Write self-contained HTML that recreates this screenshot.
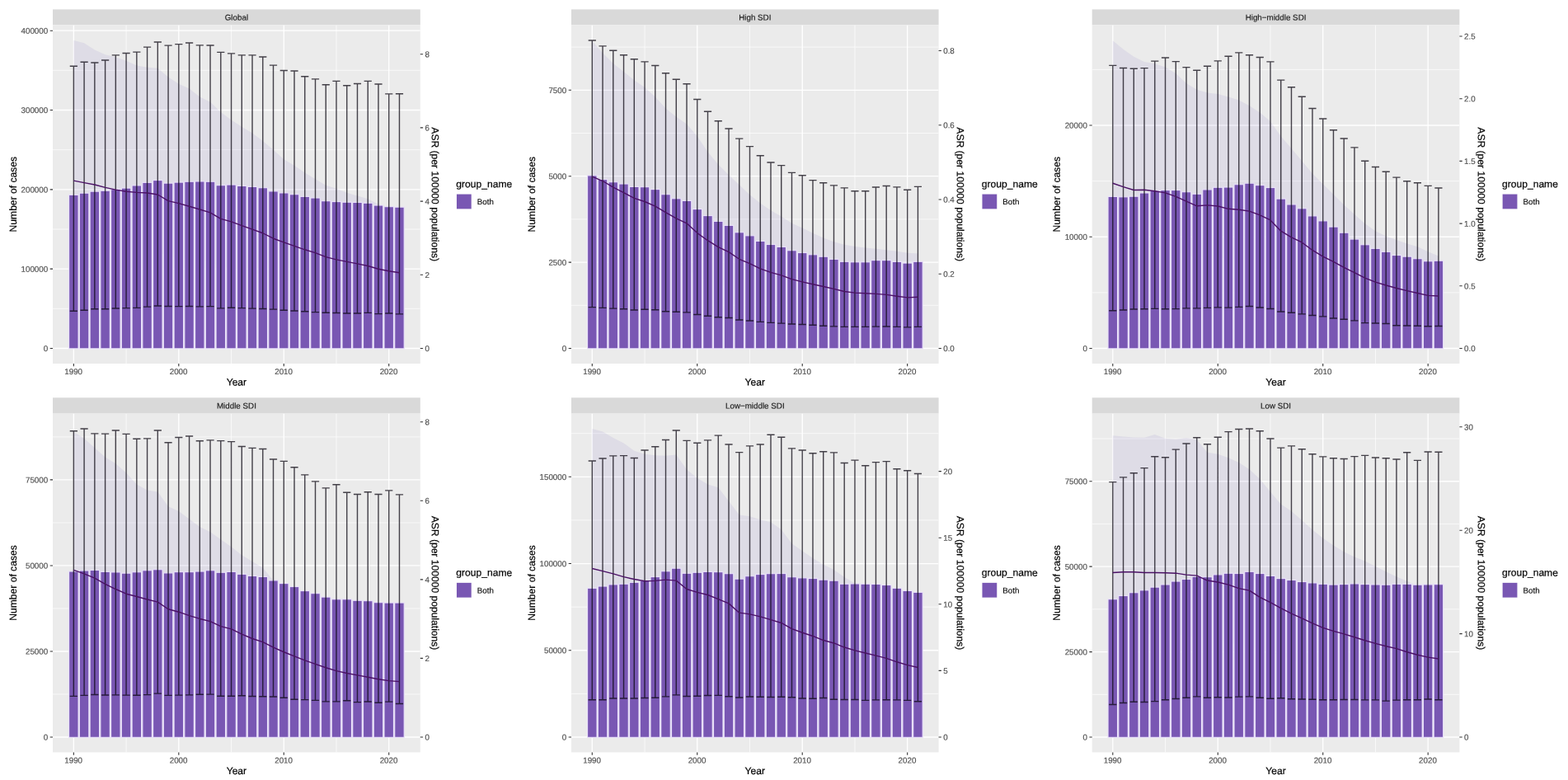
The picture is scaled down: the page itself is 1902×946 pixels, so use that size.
<!DOCTYPE html>
<html lang="en"><head><meta charset="utf-8"><title>Number of cases and ASR by SDI region, 1990-2021</title>
<style>html,body{margin:0;padding:0;background:#fff;}body{width:1902px;height:946px;overflow:hidden;}svg{display:block;font-family:"Liberation Sans",Arial,sans-serif;filter:blur(0.45px);text-rendering:geometricPrecision;}.tk{font-size:9.8px;fill:#4d4d4d;stroke:#4d4d4d;stroke-width:0.15px;}.st{font-size:9.8px;fill:#1a1a1a;stroke:#1a1a1a;stroke-width:0.15px;}.at{font-size:12.1px;fill:#000;stroke:#000;stroke-width:0.2px;}.lg{font-size:9.8px;fill:#000;stroke:#000;stroke-width:0.1px;}</style></head><body>
<svg role="img" aria-label="Number of cases and ASR per 100000 populations by SDI region, 1990 to 2021" width="1902" height="946" viewBox="0 0 1902 946">
<rect x="0" y="0" width="1902" height="946" fill="#ffffff"/>
<g id="panel0">
<rect x="64" y="11.4" width="445.8" height="19" fill="#d9d9d9"/>
<text class="st" transform="translate(286.9 24.5) rotate(0.03)" text-anchor="middle">Global</text>
<rect x="64" y="30.4" width="445.8" height="410.6" fill="#ebebeb"/>
<clipPath id="cp0"><rect x="64" y="30.4" width="445.8" height="410.6"/></clipPath>
<g clip-path="url(#cp0)">
<path d="M64 374.34H509.8M64 278H509.8M64 181.68H509.8M64 85.34H509.8M153.08 30.4V441M280.54 30.4V441M408 30.4V441" stroke="#ffffff" stroke-opacity="0.85" stroke-width="0.8" fill="none"/>
<path d="M64 422.5H509.8M64 326.17H509.8M64 229.84H509.8M64 133.51H509.8M64 37.18H509.8M89.35 30.4V441M216.81 30.4V441M344.27 30.4V441M471.73 30.4V441" stroke="#ffffff" stroke-width="1.3" fill="none"/>
<polygon points="89.35,49.03 102.1,52.2 114.84,60.45 127.59,66.15 140.33,69.33 153.08,73.77 165.83,79.47 178.57,81.76 191.32,82.64 204.06,93.43 216.81,101.67 229.56,107.38 242.3,117.53 255.05,123.87 267.79,135.92 280.54,145.44 293.29,153.81 306.03,161.42 318.78,170.93 331.52,181.71 344.27,193.13 357.02,200.74 369.76,209.62 382.51,217.23 395.25,224.84 408,228.65 420.75,233.72 433.49,237.53 446.24,241.34 458.98,247.68 471.73,251.48 484.48,255.29 484.48,364.63 471.73,363.59 458.98,361.62 446.24,358.96 433.49,357 420.75,355.03 408,353.63 395.25,350.74 382.51,346.82 369.76,344.72 357.02,342.27 344.27,339.26 331.52,337.6 318.78,333.07 306.03,330.55 293.29,327.53 280.54,324.49 267.79,323.72 255.05,318.11 242.3,315.44 229.56,314.5 216.81,311.91 204.06,311.21 191.32,305.03 178.57,302.48 165.83,302.58 153.08,303.49 140.33,302.55 127.59,299.93 114.84,297.54 102.1,297.93 89.35,295.69" fill="#7058bc" fill-opacity="0.1"/>
<g fill="#7957b3" stroke="#e9e1fa" stroke-width="1.15">
<rect x="83.6" y="236.33" width="11.5" height="186.53"/>
<rect x="96.35" y="234.17" width="11.5" height="188.69"/>
<rect x="109.09" y="232.14" width="11.5" height="190.72"/>
<rect x="121.84" y="231.25" width="11.5" height="191.61"/>
<rect x="134.58" y="229.59" width="11.5" height="193.26"/>
<rect x="147.33" y="228.08" width="11.5" height="194.78"/>
<rect x="160.08" y="224.91" width="11.5" height="197.95"/>
<rect x="172.82" y="221.36" width="11.5" height="201.5"/>
<rect x="185.57" y="218.56" width="11.5" height="204.29"/>
<rect x="198.31" y="222.12" width="11.5" height="200.74"/>
<rect x="211.06" y="221.09" width="11.5" height="201.76"/>
<rect x="223.81" y="220.22" width="11.5" height="202.64"/>
<rect x="236.55" y="219.96" width="11.5" height="202.9"/>
<rect x="249.3" y="220.22" width="11.5" height="202.64"/>
<rect x="262.04" y="224.66" width="11.5" height="198.2"/>
<rect x="274.79" y="224.02" width="11.5" height="198.84"/>
<rect x="287.54" y="225.42" width="11.5" height="197.44"/>
<rect x="300.28" y="226.43" width="11.5" height="196.43"/>
<rect x="313.03" y="227.7" width="11.5" height="195.16"/>
<rect x="325.77" y="231.89" width="11.5" height="190.97"/>
<rect x="338.52" y="233.92" width="11.5" height="188.94"/>
<rect x="351.27" y="235.69" width="11.5" height="187.17"/>
<rect x="364.01" y="238.36" width="11.5" height="184.5"/>
<rect x="376.76" y="240" width="11.5" height="182.86"/>
<rect x="389.5" y="243.68" width="11.5" height="179.18"/>
<rect x="402.25" y="244.56" width="11.5" height="178.29"/>
<rect x="415" y="245.21" width="11.5" height="177.65"/>
<rect x="427.74" y="245.46" width="11.5" height="177.4"/>
<rect x="440.49" y="246.22" width="11.5" height="176.64"/>
<rect x="453.23" y="249.01" width="11.5" height="173.84"/>
<rect x="465.98" y="250.66" width="11.5" height="172.2"/>
<rect x="478.73" y="251.17" width="11.5" height="171.69"/>
</g>
<path d="M84.75 80.23H93.95M84.75 377.19H93.95M89.35 80.23V377.19M97.5 75.29H106.7M97.5 376.3H106.7M102.1 75.29V376.3M110.24 75.92H119.44M110.24 374.78H119.44M114.84 75.92V374.78M122.99 73H132.19M122.99 374.78H132.19M127.59 73V374.78M135.73 66.91H144.93M135.73 374.02H144.93M140.33 66.91V374.02M148.48 64.5H157.68M148.48 373.64H157.68M153.08 64.5V373.64M161.23 63.11H170.43M161.23 373.38H170.43M165.83 63.11V373.38M173.97 57.15H183.17M173.97 372.12H183.17M178.57 57.15V372.12M186.72 51.06H195.92M186.72 370.97H195.92M191.32 51.06V370.97M199.46 55.12H208.66M199.46 371.48H208.66M204.06 55.12V371.48M212.21 53.6H221.41M212.21 371.61H221.41M216.81 53.6V371.61M224.96 52.07H234.16M224.96 371.48H234.16M229.56 52.07V371.48M237.7 54.86H246.9M237.7 371.86H246.9M242.3 54.86V371.86M250.45 54.99H259.65M250.45 371.61H259.65M255.05 54.99V371.61M263.19 63.36H272.39M263.19 373.89H272.39M267.79 63.36V373.89M275.94 64.89H285.14M275.94 373.26H285.14M280.54 64.89V373.26M288.69 66.91H297.89M288.69 373.64H297.89M293.29 66.91V373.64M301.43 66.91H310.63M301.43 374.15H310.63M306.03 66.91V374.15M314.18 69.07H323.38M314.18 374.53H323.38M318.78 69.07V374.53M326.92 79.09H336.12M326.92 375.16H336.12M331.52 79.09V375.16M339.67 85.56H348.87M339.67 376.3H348.87M344.27 85.56V376.3M352.42 86.07H361.62M352.42 377.06H361.62M357.02 86.07V377.06M365.16 92.79H374.36M365.16 377.82H374.36M369.76 92.79V377.82M377.91 95.84H387.11M377.91 378.59H387.11M382.51 95.84V378.59M390.65 102.81H399.85M390.65 379.22H399.85M395.25 102.81V379.22M403.4 98.37H412.6M403.4 379.47H412.6M408 98.37V379.47M416.15 103.7H425.35M416.15 379.98H425.35M420.75 103.7V379.98M428.89 101.55H438.09M428.89 379.98H438.09M433.49 101.55V379.98M441.64 98.37H450.84M441.64 379.35H450.84M446.24 98.37V379.35M454.38 102.05H463.58M454.38 380.62H463.58M458.98 102.05V380.62M467.13 113.85H476.33M467.13 379.98H476.33M471.73 113.85V379.98M479.88 113.72H489.08M479.88 380.87H489.08M484.48 113.72V380.87" stroke="#0b0712" stroke-opacity="0.75" stroke-width="1.42" fill="none"/>
<polyline points="89.35,219.14 102.1,221.67 114.84,223.96 127.59,227.38 140.33,230.17 153.08,232.2 165.83,233.34 178.57,233.98 191.32,236.01 204.06,243.62 216.81,246.66 229.56,250.22 242.3,254.02 255.05,257.83 267.79,265.44 280.54,268.92 293.29,273.62 306.03,278.06 318.78,282.75 331.52,289.22 344.27,293.91 357.02,298.35 369.76,302.79 382.51,306.6 395.25,311.67 408,314.84 420.75,317.38 433.49,319.92 446.24,322.46 458.98,326.26 471.73,328.8 484.48,330.7" stroke="#4a1065" stroke-width="1.4" fill="none" stroke-linejoin="round"/>
</g>
<text class="tk" transform="translate(58.2 426.1) rotate(0.03)" text-anchor="end">0</text>
<text class="tk" transform="translate(58.2 329.77) rotate(0.03)" text-anchor="end">100000</text>
<text class="tk" transform="translate(58.2 233.44) rotate(0.03)" text-anchor="end">200000</text>
<text class="tk" transform="translate(58.2 137.11) rotate(0.03)" text-anchor="end">300000</text>
<text class="tk" transform="translate(58.2 40.78) rotate(0.03)" text-anchor="end">400000</text>
<text class="tk" transform="translate(515.4 426.1) rotate(0.03)">0</text>
<text class="tk" transform="translate(515.4 336.9) rotate(0.03)">2</text>
<text class="tk" transform="translate(515.4 247.7) rotate(0.03)">4</text>
<text class="tk" transform="translate(515.4 158.5) rotate(0.03)">6</text>
<text class="tk" transform="translate(515.4 69.3) rotate(0.03)">8</text>
<text class="tk" transform="translate(89.15 454.1) rotate(0.03)" text-anchor="middle">1990</text>
<text class="tk" transform="translate(216.61 454.1) rotate(0.03)" text-anchor="middle">2000</text>
<text class="tk" transform="translate(344.07 454.1) rotate(0.03)" text-anchor="middle">2010</text>
<text class="tk" transform="translate(471.53 454.1) rotate(0.03)" text-anchor="middle">2020</text>
<path d="M60.7 422.5H64M60.7 326.17H64M60.7 229.84H64M60.7 133.51H64M60.7 37.18H64M509.8 422.5H513.1M509.8 333.3H513.1M509.8 244.1H513.1M509.8 154.9H513.1M509.8 65.7H513.1M89.35 441V444.3M216.81 441V444.3M344.27 441V444.3M471.73 441V444.3" stroke="#333333" stroke-width="1.1" fill="none"/>
<text class="at" transform="translate(286.9 467.6) rotate(0.03)" text-anchor="middle">Year</text>
<text class="at" transform="translate(20 235.7) rotate(-89.97)" text-anchor="middle">Number of cases</text>
<text class="at" transform="translate(523.8 235.7) rotate(90.03)" text-anchor="middle">ASR (per 100000 populations)</text>
<text class="at" transform="translate(553.3 227.3) rotate(0.03)">group_name</text>
<rect x="553.5" y="235.1" width="18.7" height="18.7" fill="#f4f2f8"/>
<rect x="554" y="235.6" width="17.7" height="17.7" fill="#7957b3"/>
<text class="lg" transform="translate(578.8 248.1) rotate(0.03)">Both</text>
</g>
<g id="panel1">
<rect x="693" y="11.4" width="445.6" height="19" fill="#d9d9d9"/>
<text class="st" transform="translate(915.8 24.5) rotate(0.03)" text-anchor="middle">High SDI</text>
<rect x="693" y="30.4" width="445.6" height="410.6" fill="#ebebeb"/>
<clipPath id="cp1"><rect x="693" y="30.4" width="445.6" height="410.6"/></clipPath>
<g clip-path="url(#cp1)">
<path d="M693 370.3H1138.6M693 265.9H1138.6M693 161.5H1138.6M693 57.1H1138.6M782.03 30.4V441M909.49 30.4V441M1036.95 30.4V441" stroke="#ffffff" stroke-opacity="0.85" stroke-width="0.8" fill="none"/>
<path d="M693 422.5H1138.6M693 318.1H1138.6M693 213.7H1138.6M693 109.3H1138.6M718.3 30.4V441M845.76 30.4V441M973.22 30.4V441M1100.68 30.4V441" stroke="#ffffff" stroke-width="1.3" fill="none"/>
<polygon points="718.3,49.79 731.05,64.25 743.79,76.94 756.54,87.08 769.28,97.23 782.03,106.11 794.78,117.53 807.52,131.48 820.27,141.63 833.01,150.51 845.76,165.22 858.51,184.25 871.25,199.47 884,212.16 896.74,224.21 909.49,236.26 922.24,246.41 934.98,255.29 947.73,262.54 960.47,270.78 973.22,276.49 985.97,282.83 998.71,288.54 1011.46,293.24 1024.2,296.79 1036.95,299.07 1049.7,300.59 1062.44,301.86 1075.19,303.13 1087.93,304.65 1100.68,306.68 1113.43,307.57 1113.43,383.91 1100.68,385.23 1087.93,383.75 1075.19,381.85 1062.44,380.96 1049.7,380.62 1036.95,380.37 1024.2,379 1011.46,376.01 998.71,374.08 985.97,372.6 973.22,371.22 960.47,369.19 947.73,365.91 934.98,364.2 922.24,361.76 909.49,357.13 896.74,354.83 884,347.75 871.25,344.63 858.51,340.07 845.76,335.39 833.01,324.9 820.27,320.23 807.52,314.31 794.78,309.93 782.03,306.79 769.28,304.71 756.54,299.71 743.79,294.72 731.05,289.39 718.3,287.98" fill="#7058bc" fill-opacity="0.1"/>
<g fill="#7957b3" stroke="#e9e1fa" stroke-width="1.15">
<rect x="712.55" y="212.86" width="11.5" height="210"/>
<rect x="725.3" y="217.55" width="11.5" height="205.31"/>
<rect x="738.04" y="220.72" width="11.5" height="202.14"/>
<rect x="750.79" y="223.01" width="11.5" height="199.84"/>
<rect x="763.53" y="226.43" width="11.5" height="196.43"/>
<rect x="776.28" y="226.68" width="11.5" height="196.18"/>
<rect x="789.03" y="229.59" width="11.5" height="193.26"/>
<rect x="801.77" y="235.69" width="11.5" height="187.17"/>
<rect x="814.52" y="240.77" width="11.5" height="182.09"/>
<rect x="827.26" y="243.43" width="11.5" height="179.43"/>
<rect x="840.01" y="253.58" width="11.5" height="169.28"/>
<rect x="852.76" y="261.56" width="11.5" height="161.29"/>
<rect x="865.5" y="268.42" width="11.5" height="154.44"/>
<rect x="878.25" y="273.38" width="11.5" height="149.48"/>
<rect x="890.99" y="281.75" width="11.5" height="141.1"/>
<rect x="903.74" y="285.81" width="11.5" height="137.04"/>
<rect x="916.49" y="292.41" width="11.5" height="130.44"/>
<rect x="929.23" y="296.47" width="11.5" height="126.38"/>
<rect x="941.98" y="299.38" width="11.5" height="123.47"/>
<rect x="954.72" y="303.69" width="11.5" height="119.16"/>
<rect x="967.47" y="306.49" width="11.5" height="116.37"/>
<rect x="980.22" y="308.78" width="11.5" height="114.07"/>
<rect x="992.96" y="311.19" width="11.5" height="111.67"/>
<rect x="1005.71" y="314.36" width="11.5" height="108.5"/>
<rect x="1018.45" y="317.28" width="11.5" height="105.57"/>
<rect x="1031.2" y="317.78" width="11.5" height="105.07"/>
<rect x="1043.95" y="317.78" width="11.5" height="105.07"/>
<rect x="1056.69" y="315.62" width="11.5" height="107.23"/>
<rect x="1069.44" y="315.62" width="11.5" height="107.23"/>
<rect x="1082.18" y="317.4" width="11.5" height="105.45"/>
<rect x="1094.93" y="319.05" width="11.5" height="103.81"/>
<rect x="1107.68" y="317.28" width="11.5" height="105.57"/>
</g>
<path d="M713.7 49.03H722.9M713.7 372.62H722.9M718.3 49.03V372.62M726.45 55.88H735.65M726.45 373.38H735.65M731.05 55.88V373.38M739.19 61.21H748.39M739.19 374.15H748.39M743.79 61.21V374.15M751.94 66.79H761.14M751.94 374.78H761.14M756.54 66.79V374.78M764.68 71.74H773.88M764.68 375.92H773.88M769.28 71.74V375.92M777.43 74.91H786.63M777.43 375.29H786.63M782.03 74.91V375.29M790.18 79.47H799.38M790.18 375.79H799.38M794.78 79.47V375.79M802.92 88.73H812.12M802.92 377.7H812.12M807.52 88.73V377.7M815.67 96.22H824.87M815.67 378.33H824.87M820.27 96.22V378.33M828.41 101.8H837.61M828.41 378.84H837.61M833.01 101.8V378.84M841.16 120.57H850.36M841.16 381.5H850.36M845.76 120.57V381.5M853.91 135.29H863.11M853.91 383.28H863.11M858.51 135.29V383.28M866.65 146.71H875.85M866.65 384.8H875.85M871.25 146.71V384.8M879.4 155.96H888.6M879.4 385.56H888.6M884 155.96V385.56M892.14 168.14H901.34M892.14 387.97H901.34M896.74 168.14V387.97M904.89 177.65H914.09M904.89 388.99H914.09M909.49 177.65V388.99M917.64 188.69H926.84M917.64 390.38H926.84M922.24 188.69V390.38M930.38 197.06H939.58M930.38 391.4H939.58M934.98 197.06V391.4M943.13 200.62H952.33M943.13 392.16H952.33M947.73 200.62V392.16M955.87 209.37H965.07M955.87 392.92H965.07M960.47 209.37V392.92M968.62 212.67H977.82M968.62 393.43H977.82M973.22 212.67V393.43M981.37 218.63H990.57M981.37 394.19H990.57M985.97 218.63V394.19M994.11 221.8H1003.31M994.11 395.2H1003.31M998.71 221.8V395.2M1006.86 224.84H1016.06M1006.86 395.84H1016.06M1011.46 224.84V395.84M1019.6 227.89H1028.8M1019.6 396.35H1028.8M1024.2 227.89V396.35M1032.35 231.69H1041.55M1032.35 396.35H1041.55M1036.95 231.69V396.35M1045.1 231.69H1054.3M1045.1 396.35H1054.3M1049.7 231.69V396.35M1057.84 227H1067.04M1057.84 396.09H1067.04M1062.44 227V396.09M1070.59 225.48H1079.79M1070.59 395.96H1079.79M1075.19 225.48V395.96M1083.33 226.87H1092.53M1083.33 396.35H1092.53M1087.93 226.87V396.35M1096.08 230.17H1105.28M1096.08 396.85H1105.28M1100.68 230.17V396.85M1108.83 226.37H1118.03M1108.83 396.35H1118.03M1113.43 226.37V396.35" stroke="#0b0712" stroke-opacity="0.75" stroke-width="1.42" fill="none"/>
<polyline points="718.3,214.06 731.05,219.52 743.79,227.13 756.54,233.72 769.28,240.32 782.03,244.51 794.78,250.22 807.52,257.57 820.27,264.8 833.01,270.78 845.76,282.58 858.51,291.71 871.25,299.58 884,305.67 896.74,314.29 909.49,319.62 922.24,325.96 934.98,330.4 947.73,333.83 960.47,338.65 973.22,341.82 985.97,344.74 998.71,347.53 1011.46,350.32 1024.2,353.49 1036.95,355.14 1049.7,355.78 1062.44,356.41 1075.19,357.42 1087.93,359.2 1100.68,360.85 1113.43,360.22" stroke="#4a1065" stroke-width="1.4" fill="none" stroke-linejoin="round"/>
</g>
<text class="tk" transform="translate(687.2 426.1) rotate(0.03)" text-anchor="end">0</text>
<text class="tk" transform="translate(687.2 321.7) rotate(0.03)" text-anchor="end">2500</text>
<text class="tk" transform="translate(687.2 217.3) rotate(0.03)" text-anchor="end">5000</text>
<text class="tk" transform="translate(687.2 112.9) rotate(0.03)" text-anchor="end">7500</text>
<text class="tk" transform="translate(1144.2 426.1) rotate(0.03)">0.0</text>
<text class="tk" transform="translate(1144.2 335.85) rotate(0.03)">0.2</text>
<text class="tk" transform="translate(1144.2 245.6) rotate(0.03)">0.4</text>
<text class="tk" transform="translate(1144.2 155.35) rotate(0.03)">0.6</text>
<text class="tk" transform="translate(1144.2 65.1) rotate(0.03)">0.8</text>
<text class="tk" transform="translate(718.1 454.1) rotate(0.03)" text-anchor="middle">1990</text>
<text class="tk" transform="translate(845.56 454.1) rotate(0.03)" text-anchor="middle">2000</text>
<text class="tk" transform="translate(973.02 454.1) rotate(0.03)" text-anchor="middle">2010</text>
<text class="tk" transform="translate(1100.48 454.1) rotate(0.03)" text-anchor="middle">2020</text>
<path d="M689.7 422.5H693M689.7 318.1H693M689.7 213.7H693M689.7 109.3H693M1138.6 422.5H1141.9M1138.6 332.25H1141.9M1138.6 242H1141.9M1138.6 151.75H1141.9M1138.6 61.5H1141.9M718.3 441V444.3M845.76 441V444.3M973.22 441V444.3M1100.68 441V444.3" stroke="#333333" stroke-width="1.1" fill="none"/>
<text class="at" transform="translate(915.8 467.6) rotate(0.03)" text-anchor="middle">Year</text>
<text class="at" transform="translate(649.1 235.7) rotate(-89.97)" text-anchor="middle">Number of cases</text>
<text class="at" transform="translate(1160.8 235.7) rotate(90.03)" text-anchor="middle">ASR (per 100000 populations)</text>
<text class="at" transform="translate(1190.8 227.3) rotate(0.03)">group_name</text>
<rect x="1191" y="235.1" width="18.7" height="18.7" fill="#f4f2f8"/>
<rect x="1191.5" y="235.6" width="17.7" height="17.7" fill="#7957b3"/>
<text class="lg" transform="translate(1216.3 248.1) rotate(0.03)">Both</text>
</g>
<g id="panel2">
<rect x="1324.7" y="11.4" width="445.7" height="19" fill="#d9d9d9"/>
<text class="st" transform="translate(1547.55 24.5) rotate(0.03)" text-anchor="middle">High−middle SDI</text>
<rect x="1324.7" y="30.4" width="445.7" height="410.6" fill="#ebebeb"/>
<clipPath id="cp2"><rect x="1324.7" y="30.4" width="445.7" height="410.6"/></clipPath>
<g clip-path="url(#cp2)">
<path d="M1324.7 354.88H1770.4M1324.7 219.62H1770.4M1324.7 84.38H1770.4M1413.53 30.4V441M1540.99 30.4V441M1668.45 30.4V441" stroke="#ffffff" stroke-opacity="0.85" stroke-width="0.8" fill="none"/>
<path d="M1324.7 422.5H1770.4M1324.7 287.25H1770.4M1324.7 152H1770.4M1349.8 30.4V441M1477.26 30.4V441M1604.72 30.4V441M1732.18 30.4V441" stroke="#ffffff" stroke-width="1.3" fill="none"/>
<polygon points="1349.8,49.28 1362.55,59.81 1375.29,68.69 1388.04,75.03 1400.78,77.19 1413.53,81.38 1426.28,88.99 1439.02,101.04 1451.77,108.65 1464.51,112.46 1477.26,113.98 1490.01,117.53 1502.75,121.59 1515.5,128.31 1528.24,136.56 1540.99,147.34 1553.74,165.29 1566.48,180 1579.23,195.22 1591.97,210.45 1604.72,223.13 1617.47,235.82 1630.21,248.5 1642.96,259.92 1655.7,271.34 1668.45,280.22 1681.2,286.56 1693.94,291 1706.69,295.44 1719.43,299.24 1732.18,305.37 1744.93,310.45 1744.93,380.89 1732.18,382.26 1719.43,380.79 1706.69,378.26 1693.94,375.85 1681.2,372.69 1668.45,370.03 1655.7,366.66 1642.96,362.61 1630.21,358.55 1617.47,354.14 1604.72,350.66 1591.97,345.33 1579.23,338.38 1566.48,336.35 1553.74,331.94 1540.99,320.7 1528.24,316.9 1515.5,313.62 1502.75,313.89 1490.01,314.43 1477.26,311.24 1464.51,310.27 1451.77,313.27 1439.02,308.42 1426.28,305.56 1413.53,302.55 1400.78,301.32 1388.04,300.07 1375.29,303.3 1362.55,301.77 1349.8,300.07" fill="#7058bc" fill-opacity="0.1"/>
<g fill="#7957b3" stroke="#e9e1fa" stroke-width="1.15">
<rect x="1344.05" y="238.42" width="11.5" height="184.44"/>
<rect x="1356.8" y="238.8" width="11.5" height="184.06"/>
<rect x="1369.54" y="238.16" width="11.5" height="184.7"/>
<rect x="1382.29" y="233.98" width="11.5" height="188.88"/>
<rect x="1395.03" y="231.19" width="11.5" height="191.67"/>
<rect x="1407.78" y="230.55" width="11.5" height="192.31"/>
<rect x="1420.53" y="230.55" width="11.5" height="192.31"/>
<rect x="1433.27" y="232.71" width="11.5" height="190.15"/>
<rect x="1446.02" y="235.25" width="11.5" height="187.61"/>
<rect x="1458.76" y="229.92" width="11.5" height="192.94"/>
<rect x="1471.51" y="227.25" width="11.5" height="195.61"/>
<rect x="1484.26" y="227" width="11.5" height="195.86"/>
<rect x="1497" y="223.7" width="11.5" height="199.16"/>
<rect x="1509.75" y="222.18" width="11.5" height="200.68"/>
<rect x="1522.49" y="224.59" width="11.5" height="198.27"/>
<rect x="1535.24" y="227.51" width="11.5" height="195.34"/>
<rect x="1547.99" y="241.08" width="11.5" height="181.78"/>
<rect x="1560.73" y="247.93" width="11.5" height="174.93"/>
<rect x="1573.48" y="252.75" width="11.5" height="170.11"/>
<rect x="1586.22" y="261.88" width="11.5" height="160.97"/>
<rect x="1598.97" y="267.85" width="11.5" height="155"/>
<rect x="1611.72" y="275.07" width="11.5" height="147.78"/>
<rect x="1624.46" y="282.18" width="11.5" height="140.68"/>
<rect x="1637.21" y="290.05" width="11.5" height="132.81"/>
<rect x="1649.95" y="296.76" width="11.5" height="126.09"/>
<rect x="1662.7" y="301.38" width="11.5" height="121.48"/>
<rect x="1675.45" y="305.31" width="11.5" height="117.55"/>
<rect x="1688.19" y="309.49" width="11.5" height="113.37"/>
<rect x="1700.94" y="311.13" width="11.5" height="111.72"/>
<rect x="1713.68" y="313.68" width="11.5" height="109.18"/>
<rect x="1726.43" y="316.73" width="11.5" height="106.12"/>
<rect x="1739.18" y="316.22" width="11.5" height="106.63"/>
</g>
<path d="M1345.2 79.35H1354.4M1345.2 376.68H1354.4M1349.8 79.35V376.68M1357.95 82.52H1367.15M1357.95 375.92H1367.15M1362.55 82.52V375.92M1370.69 83.28H1379.89M1370.69 375.03H1379.89M1375.29 83.28V375.03M1383.44 82.64H1392.64M1383.44 374.78H1392.64M1388.04 82.64V374.78M1396.18 74.15H1405.38M1396.18 374.4H1405.38M1400.78 74.15V374.4M1408.93 69.96H1418.13M1408.93 374.78H1418.13M1413.53 69.96V374.78M1421.68 74.65H1430.88M1421.68 374.65H1430.88M1426.28 74.65V374.65M1434.42 81.63H1443.62M1434.42 373.89H1443.62M1439.02 81.63V373.89M1447.17 85.18H1456.37M1447.17 373.89H1456.37M1451.77 85.18V373.89M1459.91 80.23H1469.11M1459.91 373.38H1469.11M1464.51 80.23V373.38M1472.66 73.89H1481.86M1472.66 372.88H1481.86M1477.26 73.89V372.88M1485.41 68.18H1494.61M1485.41 373.13H1494.61M1490.01 68.18V373.13M1498.15 63.87H1507.35M1498.15 372.37H1507.35M1502.75 63.87V372.37M1510.9 66.79H1520.1M1510.9 371.48H1520.1M1515.5 66.79V371.48M1523.64 69.45H1532.84M1523.64 372.98H1532.84M1528.24 69.45V372.98M1536.39 74.91H1545.59M1536.39 374.51H1545.59M1540.99 74.91V374.51M1549.14 97.11H1558.34M1549.14 377.93H1558.34M1553.74 97.11V377.93M1561.88 105.73H1571.08M1561.88 379.33H1571.08M1566.48 105.73V379.33M1574.63 117.28H1583.83M1574.63 380.85H1583.83M1579.23 117.28V380.85M1587.37 131.55H1596.57M1587.37 382.5H1596.57M1591.97 131.55V382.5M1600.12 143.98H1609.32M1600.12 383.89H1609.32M1604.72 143.98V383.89M1612.87 157.81H1622.07M1612.87 386.05H1622.07M1617.47 157.81V386.05M1625.61 167.95H1634.81M1625.61 387.19H1634.81M1630.21 167.95V387.19M1638.36 178.86H1647.56M1638.36 388.84H1647.56M1642.96 178.86V388.84M1651.1 195.22H1660.3M1651.1 391.63H1660.3M1655.7 195.22V391.63M1663.85 202.58H1673.05M1663.85 392.01H1673.05M1668.45 202.58V392.01M1676.6 208.29H1685.8M1676.6 392.52H1685.8M1681.2 208.29V392.52M1689.34 215.14H1698.54M1689.34 394.68H1698.54M1693.94 215.14V394.68M1702.09 219.83H1711.29M1702.09 394.93H1711.29M1706.69 219.83V394.93M1714.83 221.74H1724.03M1714.83 395.18H1724.03M1719.43 221.74V395.18M1727.58 225.41H1736.78M1727.58 395.82H1736.78M1732.18 225.41V395.82M1740.33 227.95H1749.53M1740.33 395.57H1749.53M1744.93 227.95V395.57" stroke="#0b0712" stroke-opacity="0.75" stroke-width="1.42" fill="none"/>
<polyline points="1349.8,222.24 1362.55,226.68 1375.29,230.49 1388.04,230.23 1400.78,231.76 1413.53,233.91 1426.28,238.35 1439.02,244.06 1451.77,249.77 1464.51,248.88 1477.26,250.02 1490.01,253.32 1502.75,254.21 1515.5,256.11 1528.24,260.93 1540.99,266.9 1553.74,280.22 1566.48,287.83 1579.23,293.95 1591.97,303.47 1604.72,311.08 1617.47,317.42 1630.21,324.4 1642.96,330.74 1655.7,337.08 1668.45,342.16 1681.2,345.96 1693.94,349.52 1706.69,352.56 1719.43,355.48 1732.18,358.4 1744.93,359.03" stroke="#4a1065" stroke-width="1.4" fill="none" stroke-linejoin="round"/>
</g>
<text class="tk" transform="translate(1318.9 426.1) rotate(0.03)" text-anchor="end">0</text>
<text class="tk" transform="translate(1318.9 290.85) rotate(0.03)" text-anchor="end">10000</text>
<text class="tk" transform="translate(1318.9 155.6) rotate(0.03)" text-anchor="end">20000</text>
<text class="tk" transform="translate(1776 426.1) rotate(0.03)">0.0</text>
<text class="tk" transform="translate(1776 350.4) rotate(0.03)">0.5</text>
<text class="tk" transform="translate(1776 274.7) rotate(0.03)">1.0</text>
<text class="tk" transform="translate(1776 199) rotate(0.03)">1.5</text>
<text class="tk" transform="translate(1776 123.3) rotate(0.03)">2.0</text>
<text class="tk" transform="translate(1776 47.6) rotate(0.03)">2.5</text>
<text class="tk" transform="translate(1349.6 454.1) rotate(0.03)" text-anchor="middle">1990</text>
<text class="tk" transform="translate(1477.06 454.1) rotate(0.03)" text-anchor="middle">2000</text>
<text class="tk" transform="translate(1604.52 454.1) rotate(0.03)" text-anchor="middle">2010</text>
<text class="tk" transform="translate(1731.98 454.1) rotate(0.03)" text-anchor="middle">2020</text>
<path d="M1321.4 422.5H1324.7M1321.4 287.25H1324.7M1321.4 152H1324.7M1770.4 422.5H1773.7M1770.4 346.8H1773.7M1770.4 271.1H1773.7M1770.4 195.4H1773.7M1770.4 119.7H1773.7M1770.4 44H1773.7M1349.8 441V444.3M1477.26 441V444.3M1604.72 441V444.3M1732.18 441V444.3" stroke="#333333" stroke-width="1.1" fill="none"/>
<text class="at" transform="translate(1547.55 467.6) rotate(0.03)" text-anchor="middle">Year</text>
<text class="at" transform="translate(1285.8 235.7) rotate(-89.97)" text-anchor="middle">Number of cases</text>
<text class="at" transform="translate(1792.8 235.7) rotate(90.03)" text-anchor="middle">ASR (per 100000 populations)</text>
<text class="at" transform="translate(1822 227.3) rotate(0.03)">group_name</text>
<rect x="1822.2" y="235.1" width="18.7" height="18.7" fill="#f4f2f8"/>
<rect x="1822.7" y="235.6" width="17.7" height="17.7" fill="#7957b3"/>
<text class="lg" transform="translate(1847.5 248.1) rotate(0.03)">Both</text>
</g>
<g id="panel3">
<rect x="64" y="482.3" width="445.8" height="19.3" fill="#d9d9d9"/>
<text class="st" transform="translate(286.9 495.4) rotate(0.03)" text-anchor="middle">Middle SDI</text>
<rect x="64" y="501.6" width="445.8" height="410.8" fill="#ebebeb"/>
<clipPath id="cp3"><rect x="64" y="501.6" width="445.8" height="410.8"/></clipPath>
<g clip-path="url(#cp3)">
<path d="M64 841.99H509.8M64 737.96H509.8M64 633.94H509.8M64 529.91H509.8M153.08 501.6V912.4M280.54 501.6V912.4M408 501.6V912.4" stroke="#ffffff" stroke-opacity="0.85" stroke-width="0.8" fill="none"/>
<path d="M64 894H509.8M64 789.98H509.8M64 685.95H509.8M64 581.92H509.8M89.35 501.6V912.4M216.81 501.6V912.4M344.27 501.6V912.4M471.73 501.6V912.4" stroke="#ffffff" stroke-width="1.3" fill="none"/>
<polygon points="89.35,523.85 102.1,531.71 114.84,543.13 127.59,554.55 140.33,562.16 153.08,573.58 165.83,587.53 178.57,594.51 191.32,596.41 204.06,614.17 216.81,620 229.56,629.51 242.3,639.03 255.05,645.37 267.79,654.25 280.54,663.13 293.29,673.28 306.03,680.89 318.78,688.5 331.52,704.36 344.27,711.34 357.02,716.41 369.76,721.48 382.51,725.29 395.25,729.1 408,731.63 420.75,732.9 433.49,734.17 446.24,734.8 458.98,736.71 471.73,737.34 484.48,737.98 484.48,866.54 471.73,865.36 458.98,862.87 446.24,860.07 433.49,857.03 420.75,854.11 408,850.46 395.25,846.07 382.51,841.35 369.76,836.62 357.02,831.55 344.27,826.47 331.52,821.33 318.78,819.28 306.03,816.62 293.29,812.33 280.54,807.7 267.79,807.09 255.05,802.33 242.3,800.59 229.56,799.35 216.81,797.19 204.06,794.84 191.32,790.33 178.57,786.59 165.83,784.76 153.08,786.21 140.33,783.07 127.59,777.66 114.84,772.32 102.1,769.73 89.35,766.64" fill="#7058bc" fill-opacity="0.1"/>
<g fill="#7957b3" stroke="#e9e1fa" stroke-width="1.15">
<rect x="83.6" y="693" width="11.5" height="201.35"/>
<rect x="96.35" y="691.98" width="11.5" height="202.37"/>
<rect x="109.09" y="691.47" width="11.5" height="202.88"/>
<rect x="121.84" y="693.38" width="11.5" height="200.97"/>
<rect x="134.58" y="693.88" width="11.5" height="200.47"/>
<rect x="147.33" y="695.15" width="11.5" height="199.2"/>
<rect x="160.08" y="693.76" width="11.5" height="200.59"/>
<rect x="172.82" y="691.73" width="11.5" height="202.62"/>
<rect x="185.57" y="690.71" width="11.5" height="203.64"/>
<rect x="198.31" y="694.9" width="11.5" height="199.45"/>
<rect x="211.06" y="693.63" width="11.5" height="200.72"/>
<rect x="223.81" y="693.63" width="11.5" height="200.72"/>
<rect x="236.55" y="693" width="11.5" height="201.35"/>
<rect x="249.3" y="691.73" width="11.5" height="202.62"/>
<rect x="262.04" y="694.26" width="11.5" height="200.09"/>
<rect x="274.79" y="693.38" width="11.5" height="200.97"/>
<rect x="287.54" y="696.29" width="11.5" height="198.06"/>
<rect x="300.28" y="698.45" width="11.5" height="195.9"/>
<rect x="313.03" y="699.47" width="11.5" height="194.88"/>
<rect x="325.77" y="703.91" width="11.5" height="190.44"/>
<rect x="338.52" y="707.58" width="11.5" height="186.77"/>
<rect x="351.27" y="711.52" width="11.5" height="182.83"/>
<rect x="364.01" y="716.59" width="11.5" height="177.76"/>
<rect x="376.76" y="719.64" width="11.5" height="174.71"/>
<rect x="389.5" y="724.08" width="11.5" height="170.27"/>
<rect x="402.25" y="726.75" width="11.5" height="167.61"/>
<rect x="415" y="726.75" width="11.5" height="167.61"/>
<rect x="427.74" y="728.26" width="11.5" height="166.09"/>
<rect x="440.49" y="728.64" width="11.5" height="165.71"/>
<rect x="453.23" y="730.67" width="11.5" height="163.68"/>
<rect x="465.98" y="731.05" width="11.5" height="163.3"/>
<rect x="478.73" y="731.05" width="11.5" height="163.3"/>
</g>
<path d="M84.75 522.83H93.95M84.75 844.4H93.95M89.35 522.83V844.4M97.5 520.04H106.7M97.5 843.38H106.7M102.1 520.04V843.38M110.24 525.88H119.44M110.24 842.5H119.44M114.84 525.88V842.5M122.99 526.13H132.19M122.99 843H132.19M127.59 526.13V843M135.73 521.95H144.93M135.73 842.88H144.93M140.33 521.95V842.88M148.48 526.39H157.68M148.48 843.13H157.68M153.08 526.39V843.13M161.23 532.22H170.43M161.23 843.26H170.43M165.83 532.22V843.26M173.97 531.84H183.17M173.97 842.62H183.17M178.57 531.84V842.62M186.72 521.95H195.92M186.72 841.1H195.92M191.32 521.95V841.1M199.46 536.79H208.66M199.46 843.38H208.66M204.06 536.79V843.38M212.21 530.57H221.41M212.21 843.13H221.41M216.81 530.57V843.13M224.96 528.92H234.16M224.96 842.88H234.16M229.56 528.92V842.88M237.7 534.76H246.9M237.7 842.24H246.9M242.3 534.76V842.24M250.45 533.87H259.65M250.45 842.12H259.65M255.05 533.87V842.12M263.19 534.63H272.39M263.19 844.28H272.39M267.79 534.63V844.28M275.94 535.65H285.14M275.94 844.28H285.14M280.54 535.65V844.28M288.69 541.48H297.89M288.69 843.77H297.89M293.29 541.48V843.77M301.43 543.38H310.63M301.43 844.53H310.63M306.03 543.38V844.53M314.18 544.53H323.38M314.18 844.78H323.38M318.78 544.53V844.78M326.92 556.96H336.12M326.92 845.04H336.12M331.52 556.96V845.04M339.67 559.37H348.87M339.67 846.3H348.87M344.27 559.37V846.3M352.42 566.73H361.62M352.42 848.21H361.62M357.02 566.73V848.21M365.16 575.86H374.36M365.16 848.59H374.36M369.76 575.86V848.59M377.91 583.85H387.11M377.91 849.35H387.11M382.51 583.85V849.35M390.65 591.84H399.85M390.65 850.87H399.85M395.25 591.84V850.87M403.4 587.78H412.6M403.4 850.87H412.6M408 587.78V850.87M416.15 597.17H425.35M416.15 849.73H425.35M420.75 597.17V849.73M428.89 599.45H438.09M428.89 851.63H438.09M433.49 599.45V851.63M441.64 596.79H450.84M441.64 851H450.84M446.24 596.79V851M454.38 599.45H463.58M454.38 852.27H463.58M458.98 599.45V852.27M467.13 594.89H476.33M467.13 851.13H476.33M471.73 594.89V851.13M479.88 599.84H489.08M479.88 853.54H489.08M484.48 599.84V853.54" stroke="#0b0712" stroke-opacity="0.75" stroke-width="1.42" fill="none"/>
<polyline points="89.35,691.29 102.1,695.86 114.84,701.19 127.59,708.42 140.33,714.51 153.08,720.22 165.83,723.55 178.57,726.98 191.32,730.15 204.06,738.77 216.81,742.2 229.56,746.64 242.3,750.45 255.05,753.62 267.79,759.66 280.54,762.83 293.29,769.18 306.03,774.5 318.78,778.69 331.52,785.03 344.27,790.74 357.02,795.82 369.76,800.89 382.51,805.33 395.25,809.77 408,813.58 420.75,816.49 433.49,818.9 446.24,821.19 458.98,823.72 471.73,825.63 484.48,826.64" stroke="#4a1065" stroke-width="1.4" fill="none" stroke-linejoin="round"/>
</g>
<text class="tk" transform="translate(58.2 897.6) rotate(0.03)" text-anchor="end">0</text>
<text class="tk" transform="translate(58.2 793.58) rotate(0.03)" text-anchor="end">25000</text>
<text class="tk" transform="translate(58.2 689.55) rotate(0.03)" text-anchor="end">50000</text>
<text class="tk" transform="translate(58.2 585.52) rotate(0.03)" text-anchor="end">75000</text>
<text class="tk" transform="translate(515.4 897.6) rotate(0.03)">0</text>
<text class="tk" transform="translate(515.4 802.02) rotate(0.03)">2</text>
<text class="tk" transform="translate(515.4 706.44) rotate(0.03)">4</text>
<text class="tk" transform="translate(515.4 610.86) rotate(0.03)">6</text>
<text class="tk" transform="translate(515.4 515.28) rotate(0.03)">8</text>
<text class="tk" transform="translate(89.15 925.5) rotate(0.03)" text-anchor="middle">1990</text>
<text class="tk" transform="translate(216.61 925.5) rotate(0.03)" text-anchor="middle">2000</text>
<text class="tk" transform="translate(344.07 925.5) rotate(0.03)" text-anchor="middle">2010</text>
<text class="tk" transform="translate(471.53 925.5) rotate(0.03)" text-anchor="middle">2020</text>
<path d="M60.7 894H64M60.7 789.98H64M60.7 685.95H64M60.7 581.92H64M509.8 894H513.1M509.8 798.42H513.1M509.8 702.84H513.1M509.8 607.26H513.1M509.8 511.68H513.1M89.35 912.4V915.7M216.81 912.4V915.7M344.27 912.4V915.7M471.73 912.4V915.7" stroke="#333333" stroke-width="1.1" fill="none"/>
<text class="at" transform="translate(286.9 939) rotate(0.03)" text-anchor="middle">Year</text>
<text class="at" transform="translate(20 707) rotate(-89.97)" text-anchor="middle">Number of cases</text>
<text class="at" transform="translate(523.8 707) rotate(90.03)" text-anchor="middle">ASR (per 100000 populations)</text>
<text class="at" transform="translate(553.3 698.6) rotate(0.03)">group_name</text>
<rect x="553.5" y="706.4" width="18.7" height="18.7" fill="#f4f2f8"/>
<rect x="554" y="706.9" width="17.7" height="17.7" fill="#7957b3"/>
<text class="lg" transform="translate(578.8 719.4) rotate(0.03)">Both</text>
</g>
<g id="panel4">
<rect x="693" y="482.3" width="445.6" height="19.3" fill="#d9d9d9"/>
<text class="st" transform="translate(915.8 495.4) rotate(0.03)" text-anchor="middle">Low−middle SDI</text>
<rect x="693" y="501.6" width="445.6" height="410.8" fill="#ebebeb"/>
<clipPath id="cp4"><rect x="693" y="501.6" width="445.6" height="410.8"/></clipPath>
<g clip-path="url(#cp4)">
<path d="M693 841.38H1138.6M693 736.15H1138.6M693 630.91H1138.6M693 525.68H1138.6M782.03 501.6V912.4M909.49 501.6V912.4M1036.95 501.6V912.4" stroke="#ffffff" stroke-opacity="0.85" stroke-width="0.8" fill="none"/>
<path d="M693 894H1138.6M693 788.76H1138.6M693 683.53H1138.6M693 578.29H1138.6M718.3 501.6V912.4M845.76 501.6V912.4M973.22 501.6V912.4M1100.68 501.6V912.4" stroke="#ffffff" stroke-width="1.3" fill="none"/>
<polygon points="718.3,520.04 731.05,523.47 743.79,531.08 756.54,537.42 769.28,546.68 782.03,550.74 794.78,552.26 807.52,552.64 820.27,551.38 833.01,569.52 845.76,579.67 858.51,587.53 871.25,591.34 884,607.83 896.74,624.44 909.49,626.34 922.24,630.15 934.98,633.32 947.73,642.2 960.47,659.33 973.22,668.2 985.97,677.08 998.71,684.7 1011.46,691.04 1024.2,699.92 1036.95,707.53 1049.7,713.87 1062.44,717.68 1075.19,721.48 1087.93,725.29 1100.68,729.1 1113.43,732.9 1113.43,844 1100.68,841.48 1087.93,837.66 1075.19,832.94 1062.44,830.05 1049.7,827.17 1036.95,825.43 1024.2,823.33 1011.46,819.97 998.71,817.85 985.97,813.93 973.22,811.85 960.47,809.04 947.73,806.46 934.98,804.93 922.24,800.84 909.49,798.14 896.74,796.6 884,787.72 871.25,787.41 858.51,781.76 845.76,780.7 833.01,779.76 820.27,772.84 807.52,770.79 794.78,772.81 782.03,774.04 769.28,772.56 756.54,772.68 743.79,770.01 731.05,768.65 718.3,765.79" fill="#7058bc" fill-opacity="0.1"/>
<g fill="#7957b3" stroke="#e9e1fa" stroke-width="1.15">
<rect x="712.55" y="713.29" width="11.5" height="181.06"/>
<rect x="725.3" y="711.01" width="11.5" height="183.34"/>
<rect x="738.04" y="708.85" width="11.5" height="185.5"/>
<rect x="750.79" y="708.22" width="11.5" height="186.13"/>
<rect x="763.53" y="706.32" width="11.5" height="188.03"/>
<rect x="776.28" y="704.41" width="11.5" height="189.94"/>
<rect x="789.03" y="699.59" width="11.5" height="194.76"/>
<rect x="801.77" y="692.75" width="11.5" height="201.61"/>
<rect x="814.52" y="689.19" width="11.5" height="205.16"/>
<rect x="827.26" y="695.28" width="11.5" height="199.07"/>
<rect x="840.01" y="694.26" width="11.5" height="200.09"/>
<rect x="852.76" y="693.38" width="11.5" height="200.97"/>
<rect x="865.5" y="693.63" width="11.5" height="200.72"/>
<rect x="878.25" y="695.66" width="11.5" height="198.69"/>
<rect x="890.99" y="702.13" width="11.5" height="192.22"/>
<rect x="903.74" y="698.7" width="11.5" height="195.65"/>
<rect x="916.49" y="696.55" width="11.5" height="197.8"/>
<rect x="929.23" y="695.66" width="11.5" height="198.69"/>
<rect x="941.98" y="695.53" width="11.5" height="198.82"/>
<rect x="954.72" y="699.72" width="11.5" height="194.63"/>
<rect x="967.47" y="700.87" width="11.5" height="193.49"/>
<rect x="980.22" y="701.5" width="11.5" height="192.85"/>
<rect x="992.96" y="703.14" width="11.5" height="191.21"/>
<rect x="1005.71" y="704.16" width="11.5" height="190.19"/>
<rect x="1018.45" y="708.22" width="11.5" height="186.13"/>
<rect x="1031.2" y="707.96" width="11.5" height="186.39"/>
<rect x="1043.95" y="708.22" width="11.5" height="186.13"/>
<rect x="1056.69" y="708.47" width="11.5" height="185.88"/>
<rect x="1069.44" y="709.5" width="11.5" height="184.86"/>
<rect x="1082.18" y="713.29" width="11.5" height="181.06"/>
<rect x="1094.93" y="716.46" width="11.5" height="177.89"/>
<rect x="1107.68" y="718.38" width="11.5" height="175.98"/>
</g>
<path d="M713.7 558.99H722.9M713.7 848.71H722.9M718.3 558.99V848.71M726.45 555.94H735.65M726.45 848.71H735.65M731.05 555.94V848.71M739.19 552.9H748.39M739.19 847.06H748.39M743.79 552.9V847.06M751.94 552.64H761.14M751.94 846.94H761.14M756.54 552.64V846.94M764.68 555.44H773.88M764.68 847.06H773.88M769.28 555.44V847.06M777.43 545.92H786.63M777.43 846.43H786.63M782.03 545.92V846.43M790.18 541.74H799.38M790.18 846.3H799.38M794.78 541.74V846.3M802.92 533.49H812.12M802.92 844.91H812.12M807.52 533.49V844.91M815.67 522.07H824.87M815.67 842.88H824.87M820.27 522.07V842.88M828.41 534.38H837.61M828.41 844.53H837.61M833.01 534.38V844.53M841.16 537.3H850.36M841.16 844.27H850.36M845.76 537.3V844.27M853.91 533.87H863.11M853.91 843.51H863.11M858.51 533.87V843.51M866.65 528.16H875.85M866.65 843.38H875.85M871.25 528.16V843.38M879.4 538.94H888.6M879.4 844.78H888.6M884 538.94V844.78M892.14 548.59H901.34M892.14 845.92H901.34M896.74 548.59V845.92M904.89 540.85H914.09M904.89 845.04H914.09M909.49 540.85V845.04M917.64 538.94H926.84M917.64 845.29H926.84M922.24 538.94V845.29M930.38 527.27H939.58M930.38 845.42H939.58M934.98 527.27V845.42M943.13 530.19H952.33M943.13 845.29H952.33M947.73 530.19V845.29M955.87 543.89H965.07M955.87 845.67H965.07M960.47 543.89V845.67M968.62 546.05H977.82M968.62 846.94H977.82M973.22 546.05V846.94M981.37 549.73H990.57M981.37 847.19H990.57M985.97 549.73V847.19M994.11 547.82H1003.31M994.11 846.56H1003.31M998.71 547.82V846.56M1006.86 548.84H1016.06M1006.86 848.21H1016.06M1011.46 548.84V848.21M1019.6 561.52H1028.8M1019.6 848.46H1028.8M1024.2 561.52V848.46M1032.35 558.1H1041.55M1032.35 848.46H1041.55M1036.95 558.1V848.46M1045.1 564.7H1054.3M1045.1 849.35H1054.3M1049.7 564.7V849.35M1057.84 560.64H1067.04M1057.84 848.84H1067.04M1062.44 560.64V848.84M1070.59 559.62H1079.79M1070.59 848.71H1079.79M1075.19 559.62V848.71M1083.33 568.76H1092.53M1083.33 848.84H1092.53M1087.93 568.76V848.84M1096.08 570.79H1105.28M1096.08 849.35H1105.28M1100.68 570.79V849.35M1108.83 574.46H1118.03M1108.83 850.74H1118.03M1113.43 574.46V850.74" stroke="#0b0712" stroke-opacity="0.75" stroke-width="1.42" fill="none"/>
<polyline points="718.3,689.52 731.05,692.56 743.79,695.86 756.54,699.67 769.28,702.46 782.03,704.74 794.78,704.36 807.52,703.09 820.27,704.11 833.01,714.51 845.76,718.31 858.51,721.48 871.25,726.56 884,731.89 896.74,743.17 909.49,744.82 922.24,747.87 934.98,751.67 947.73,755.48 960.47,762.58 973.22,767.27 985.97,771.46 998.71,776.53 1011.46,779.96 1024.2,785.03 1036.95,788.84 1049.7,792.01 1062.44,795.18 1075.19,798.35 1087.93,802.79 1100.68,806.6 1113.43,809.52" stroke="#4a1065" stroke-width="1.4" fill="none" stroke-linejoin="round"/>
</g>
<text class="tk" transform="translate(687.2 897.6) rotate(0.03)" text-anchor="end">0</text>
<text class="tk" transform="translate(687.2 792.37) rotate(0.03)" text-anchor="end">50000</text>
<text class="tk" transform="translate(687.2 687.13) rotate(0.03)" text-anchor="end">100000</text>
<text class="tk" transform="translate(687.2 581.89) rotate(0.03)" text-anchor="end">150000</text>
<text class="tk" transform="translate(1144.2 897.6) rotate(0.03)">0</text>
<text class="tk" transform="translate(1144.2 817) rotate(0.03)">5</text>
<text class="tk" transform="translate(1144.2 736.4) rotate(0.03)">10</text>
<text class="tk" transform="translate(1144.2 655.8) rotate(0.03)">15</text>
<text class="tk" transform="translate(1144.2 575.2) rotate(0.03)">20</text>
<text class="tk" transform="translate(718.1 925.5) rotate(0.03)" text-anchor="middle">1990</text>
<text class="tk" transform="translate(845.56 925.5) rotate(0.03)" text-anchor="middle">2000</text>
<text class="tk" transform="translate(973.02 925.5) rotate(0.03)" text-anchor="middle">2010</text>
<text class="tk" transform="translate(1100.48 925.5) rotate(0.03)" text-anchor="middle">2020</text>
<path d="M689.7 894H693M689.7 788.76H693M689.7 683.53H693M689.7 578.29H693M1138.6 894H1141.9M1138.6 813.4H1141.9M1138.6 732.8H1141.9M1138.6 652.2H1141.9M1138.6 571.6H1141.9M718.3 912.4V915.7M845.76 912.4V915.7M973.22 912.4V915.7M1100.68 912.4V915.7" stroke="#333333" stroke-width="1.1" fill="none"/>
<text class="at" transform="translate(915.8 939) rotate(0.03)" text-anchor="middle">Year</text>
<text class="at" transform="translate(649.1 707) rotate(-89.97)" text-anchor="middle">Number of cases</text>
<text class="at" transform="translate(1160.8 707) rotate(90.03)" text-anchor="middle">ASR (per 100000 populations)</text>
<text class="at" transform="translate(1190.8 698.6) rotate(0.03)">group_name</text>
<rect x="1191" y="706.4" width="18.7" height="18.7" fill="#f4f2f8"/>
<rect x="1191.5" y="706.9" width="17.7" height="17.7" fill="#7957b3"/>
<text class="lg" transform="translate(1216.3 719.4) rotate(0.03)">Both</text>
</g>
<g id="panel5">
<rect x="1324.7" y="482.3" width="445.7" height="19.3" fill="#d9d9d9"/>
<text class="st" transform="translate(1547.55 495.4) rotate(0.03)" text-anchor="middle">Low SDI</text>
<rect x="1324.7" y="501.6" width="445.7" height="410.8" fill="#ebebeb"/>
<clipPath id="cp5"><rect x="1324.7" y="501.6" width="445.7" height="410.8"/></clipPath>
<g clip-path="url(#cp5)">
<path d="M1324.7 842.29H1770.4M1324.7 738.86H1770.4M1324.7 635.44H1770.4M1324.7 532.01H1770.4M1413.53 501.6V912.4M1540.99 501.6V912.4M1668.45 501.6V912.4" stroke="#ffffff" stroke-opacity="0.85" stroke-width="0.8" fill="none"/>
<path d="M1324.7 894H1770.4M1324.7 790.58H1770.4M1324.7 687.15H1770.4M1324.7 583.73H1770.4M1349.8 501.6V912.4M1477.26 501.6V912.4M1604.72 501.6V912.4M1732.18 501.6V912.4" stroke="#ffffff" stroke-width="1.3" fill="none"/>
<polygon points="1349.8,528.16 1362.55,529.43 1375.29,530.45 1388.04,530.83 1400.78,526.89 1413.53,531.71 1426.28,532.73 1439.02,531.08 1451.77,533.24 1464.51,548.84 1477.26,550.74 1490.01,555.18 1502.75,560.89 1515.5,569.14 1528.24,580.93 1540.99,596.41 1553.74,611.38 1566.48,619.88 1579.23,630.99 1591.97,642.54 1604.72,652.69 1617.47,661.57 1630.21,669.18 1642.96,675.52 1655.7,680.59 1668.45,686.94 1681.2,693.28 1693.94,699.62 1706.69,704.7 1719.43,710.4 1732.18,716.11 1744.93,721.19 1744.93,834 1732.18,833.52 1719.43,832.04 1706.69,829.46 1693.94,825.86 1681.2,824.49 1668.45,822.37 1655.7,820.08 1642.96,816.47 1630.21,813.8 1617.47,812.08 1604.72,810.19 1591.97,806.85 1579.23,803.39 1566.48,799.88 1553.74,794.51 1540.99,791.13 1528.24,788.9 1515.5,782.25 1502.75,782.29 1490.01,778.42 1477.26,775.81 1464.51,773.91 1451.77,772.29 1439.02,771.78 1426.28,768.28 1413.53,768.19 1400.78,770 1388.04,768.22 1375.29,767.29 1362.55,767.75 1349.8,769.43" fill="#7058bc" fill-opacity="0.1"/>
<g fill="#7957b3" stroke="#e9e1fa" stroke-width="1.15">
<rect x="1344.05" y="726.7" width="11.5" height="167.65"/>
<rect x="1356.8" y="722.51" width="11.5" height="171.84"/>
<rect x="1369.54" y="718.7" width="11.5" height="175.65"/>
<rect x="1382.29" y="715.79" width="11.5" height="178.56"/>
<rect x="1395.03" y="712.12" width="11.5" height="182.24"/>
<rect x="1407.78" y="708.94" width="11.5" height="185.41"/>
<rect x="1420.53" y="705" width="11.5" height="189.35"/>
<rect x="1433.27" y="702.47" width="11.5" height="191.88"/>
<rect x="1446.02" y="699.3" width="11.5" height="195.05"/>
<rect x="1458.76" y="699.68" width="11.5" height="194.67"/>
<rect x="1471.51" y="696.89" width="11.5" height="197.46"/>
<rect x="1484.26" y="695.25" width="11.5" height="199.11"/>
<rect x="1497" y="695.5" width="11.5" height="198.86"/>
<rect x="1509.75" y="693.33" width="11.5" height="201.02"/>
<rect x="1522.49" y="695.5" width="11.5" height="198.86"/>
<rect x="1535.24" y="698.41" width="11.5" height="195.94"/>
<rect x="1547.99" y="701.58" width="11.5" height="192.77"/>
<rect x="1560.73" y="703.48" width="11.5" height="190.87"/>
<rect x="1573.48" y="705.51" width="11.5" height="188.84"/>
<rect x="1586.22" y="706.91" width="11.5" height="187.44"/>
<rect x="1598.97" y="708.3" width="11.5" height="186.05"/>
<rect x="1611.72" y="709.06" width="11.5" height="185.29"/>
<rect x="1624.46" y="708.56" width="11.5" height="185.79"/>
<rect x="1637.21" y="707.92" width="11.5" height="186.43"/>
<rect x="1649.95" y="708.56" width="11.5" height="185.79"/>
<rect x="1662.7" y="708.94" width="11.5" height="185.41"/>
<rect x="1675.45" y="709.19" width="11.5" height="185.16"/>
<rect x="1688.19" y="708.3" width="11.5" height="186.05"/>
<rect x="1700.94" y="708.3" width="11.5" height="186.05"/>
<rect x="1713.68" y="709.19" width="11.5" height="185.16"/>
<rect x="1726.43" y="708.94" width="11.5" height="185.41"/>
<rect x="1739.18" y="708.68" width="11.5" height="185.67"/>
</g>
<path d="M1345.2 584.61H1354.4M1345.2 854.55H1354.4M1349.8 584.61V854.55M1357.95 578.9H1367.15M1357.95 852.52H1367.15M1362.55 578.9V852.52M1370.69 573.83H1379.89M1370.69 851.25H1379.89M1375.29 573.83V851.25M1383.44 567.61H1392.64M1383.44 851.5H1392.64M1388.04 567.61V851.5M1396.18 553.79H1405.38M1396.18 850.62H1405.38M1400.78 553.79V850.62M1408.93 554.8H1418.13M1408.93 848.71H1418.13M1413.53 554.8V848.71M1421.68 545.16H1430.88M1421.68 847.57H1430.88M1426.28 545.16V847.57M1434.42 538.06H1443.62M1434.42 846.18H1443.62M1439.02 538.06V846.18M1447.17 530.83H1456.37M1447.17 844.91H1456.37M1451.77 530.83V844.91M1459.91 538.82H1469.11M1459.91 846.18H1469.11M1464.51 538.82V846.18M1472.66 530.19H1481.86M1472.66 845.67H1481.86M1477.26 530.19V845.67M1485.41 523.6H1494.61M1485.41 846.05H1494.61M1490.01 523.6V846.05M1498.15 520.55H1507.35M1498.15 845.16H1507.35M1502.75 520.55V845.16M1510.9 520.04H1520.1M1510.9 844.91H1520.1M1515.5 520.04V844.91M1523.64 522.83H1532.84M1523.64 846.3H1532.84M1528.24 522.83V846.3M1536.39 531.97H1545.59M1536.39 847.19H1545.59M1540.99 531.97V847.19M1549.14 543.13H1558.34M1549.14 846.81H1558.34M1553.74 543.13V846.81M1561.88 540.85H1571.08M1561.88 847.83H1571.08M1566.48 540.85V847.83M1574.63 544.78H1583.83M1574.63 848.08H1583.83M1579.23 544.78V848.08M1587.37 550.74H1596.57M1587.37 848.21H1596.57M1591.97 550.74V848.21M1600.12 553.91H1609.32M1600.12 848.71H1609.32M1604.72 553.91V848.71M1612.87 555.69H1622.07M1612.87 848.71H1622.07M1617.47 555.69V848.71M1625.61 556.58H1634.81M1625.61 848.46H1634.81M1630.21 556.58V848.46M1638.36 553.66H1647.56M1638.36 848.46H1647.56M1642.96 553.66V848.46M1651.1 552.39H1660.3M1651.1 848.84H1660.3M1655.7 552.39V848.84M1663.85 554.93H1673.05M1663.85 848.84H1673.05M1668.45 554.93V848.84M1676.6 555.82H1685.8M1676.6 850.11H1685.8M1681.2 555.82V850.11M1689.34 556.96H1698.54M1689.34 849.1H1698.54M1693.94 556.96V849.1M1702.09 548.71H1711.29M1702.09 848.71H1711.29M1706.69 548.71V848.71M1714.83 558.35H1724.03M1714.83 848.71H1724.03M1719.43 558.35V848.71M1727.58 547.95H1736.78M1727.58 848.08H1736.78M1732.18 547.95V848.08M1740.33 548.2H1749.53M1740.33 848.71H1749.53M1744.93 548.2V848.71" stroke="#0b0712" stroke-opacity="0.75" stroke-width="1.42" fill="none"/>
<polyline points="1349.8,694.55 1362.55,693.79 1375.29,693.79 1388.04,694.55 1400.78,694.55 1413.53,694.8 1426.28,695.18 1439.02,697.08 1451.77,698.1 1464.51,704.06 1477.26,705.96 1490.01,709.14 1502.75,713.58 1515.5,716.11 1528.24,724.36 1540.99,730.7 1553.74,737.68 1566.48,744.02 1579.23,749.89 1591.97,755.86 1604.72,761.31 1617.47,765.37 1630.21,768.92 1642.96,772.73 1655.7,776.79 1668.45,780.34 1681.2,783.77 1693.94,786.68 1706.69,790.74 1719.43,794.29 1732.18,797.08 1744.93,798.99" stroke="#4a1065" stroke-width="1.4" fill="none" stroke-linejoin="round"/>
</g>
<text class="tk" transform="translate(1318.9 897.6) rotate(0.03)" text-anchor="end">0</text>
<text class="tk" transform="translate(1318.9 794.18) rotate(0.03)" text-anchor="end">25000</text>
<text class="tk" transform="translate(1318.9 690.75) rotate(0.03)" text-anchor="end">50000</text>
<text class="tk" transform="translate(1318.9 587.33) rotate(0.03)" text-anchor="end">75000</text>
<text class="tk" transform="translate(1776 897.6) rotate(0.03)">0</text>
<text class="tk" transform="translate(1776 772.2) rotate(0.03)">10</text>
<text class="tk" transform="translate(1776 646.8) rotate(0.03)">20</text>
<text class="tk" transform="translate(1776 521.4) rotate(0.03)">30</text>
<text class="tk" transform="translate(1349.6 925.5) rotate(0.03)" text-anchor="middle">1990</text>
<text class="tk" transform="translate(1477.06 925.5) rotate(0.03)" text-anchor="middle">2000</text>
<text class="tk" transform="translate(1604.52 925.5) rotate(0.03)" text-anchor="middle">2010</text>
<text class="tk" transform="translate(1731.98 925.5) rotate(0.03)" text-anchor="middle">2020</text>
<path d="M1321.4 894H1324.7M1321.4 790.58H1324.7M1321.4 687.15H1324.7M1321.4 583.73H1324.7M1770.4 894H1773.7M1770.4 768.6H1773.7M1770.4 643.2H1773.7M1770.4 517.8H1773.7M1349.8 912.4V915.7M1477.26 912.4V915.7M1604.72 912.4V915.7M1732.18 912.4V915.7" stroke="#333333" stroke-width="1.1" fill="none"/>
<text class="at" transform="translate(1547.55 939) rotate(0.03)" text-anchor="middle">Year</text>
<text class="at" transform="translate(1285.8 707) rotate(-89.97)" text-anchor="middle">Number of cases</text>
<text class="at" transform="translate(1792.8 707) rotate(90.03)" text-anchor="middle">ASR (per 100000 populations)</text>
<text class="at" transform="translate(1822 698.6) rotate(0.03)">group_name</text>
<rect x="1822.2" y="706.4" width="18.7" height="18.7" fill="#f4f2f8"/>
<rect x="1822.7" y="706.9" width="17.7" height="17.7" fill="#7957b3"/>
<text class="lg" transform="translate(1847.5 719.4) rotate(0.03)">Both</text>
</g>
</svg></body></html>
